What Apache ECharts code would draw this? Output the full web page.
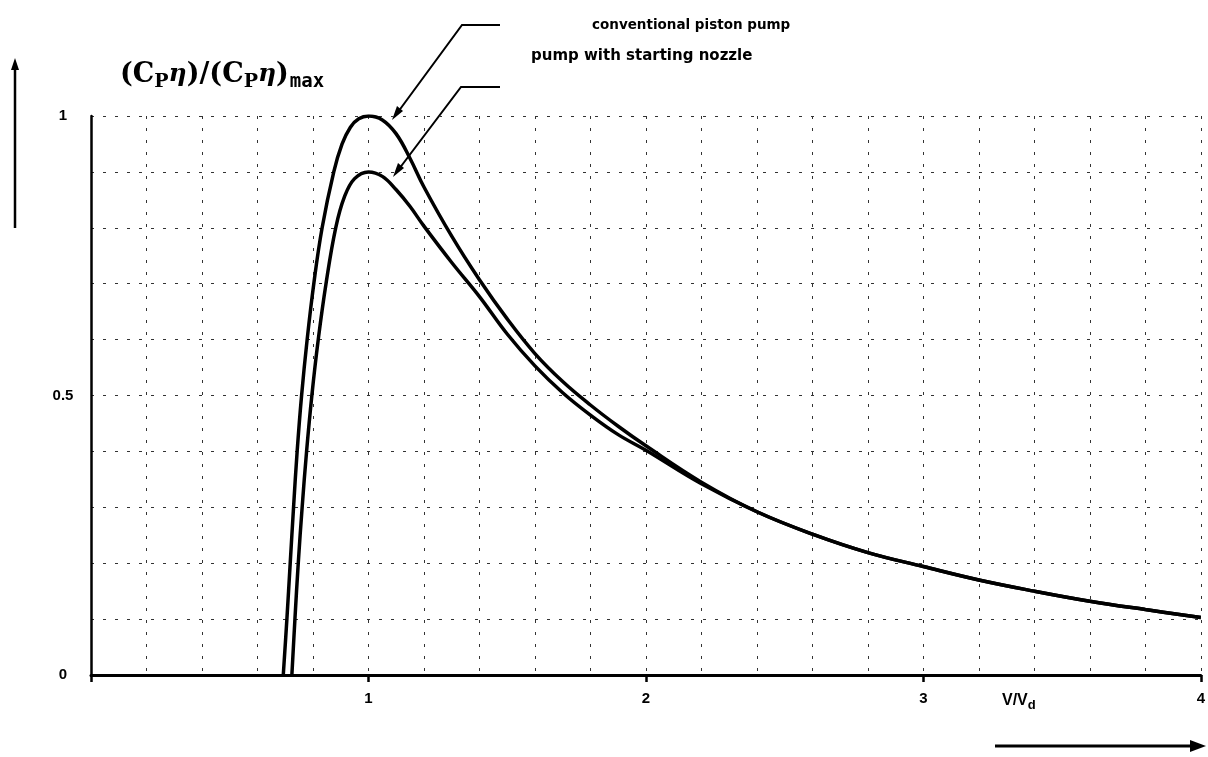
<!DOCTYPE html>
<html>
<head>
<meta charset="utf-8">
<script src="https://cdn.jsdelivr.net/npm/echarts@6/dist/echarts.min.js"></script>
<style>
  html, body { margin: 0; padding: 0; background: #fff; }
  #chart { width: 1208px; height: 757px; }
</style>
</head>
<body>
<div id="chart"></div>
<script>
// x = V/Vd, y = (Cp eta)/(Cp eta)max
const conventionalX = [0.693, 0.706, 0.718, 0.730, 0.743, 0.759, 0.779, 0.803, 0.833, 0.875, 0.905, 0.935, 0.965, 1.0, 1.05, 1.1, 1.15, 1.2, 1.3, 1.4, 1.5, 1.6, 1.7, 1.8, 1.9, 2.0, 2.2, 2.4, 2.6, 2.8, 3.0, 3.2, 3.4, 3.6, 3.8, 4.0];
const conventionalY = [0, 0.1, 0.2, 0.3, 0.4, 0.5, 0.6, 0.7, 0.8, 0.9, 0.95, 0.98, 0.995, 1.0, 0.993, 0.968, 0.924, 0.873, 0.785, 0.707, 0.637, 0.575, 0.525, 0.483, 0.445, 0.41, 0.345, 0.292, 0.252, 0.219, 0.194, 0.17, 0.15, 0.132, 0.117, 0.103];

const nozzleX = [0.724, 0.735, 0.747, 0.761, 0.777, 0.796, 0.819, 0.847, 0.882, 0.914, 0.95, 1.0, 1.05, 1.1, 1.15, 1.2, 1.3, 1.4, 1.5, 1.6, 1.7, 1.8, 1.9, 2.0, 2.2, 2.4, 2.6, 2.8, 3.0, 3.2, 3.4, 3.6, 3.8, 4.0];
const nozzleY = [0, 0.1, 0.2, 0.3, 0.4, 0.5, 0.6, 0.7, 0.8, 0.856, 0.888, 0.9, 0.892, 0.868, 0.838, 0.803, 0.738, 0.677, 0.61, 0.553, 0.505, 0.465, 0.43, 0.402, 0.342, 0.292, 0.252, 0.219, 0.194, 0.17, 0.15, 0.132, 0.117, 0.103];

const xTickLabels = { 1: '1', 2: '2', 3: '3', 4: '4' };
const yTickLabels = { 0: '0', 5: '0.5', 10: '1' };

const chart = echarts.init(document.getElementById('chart'));

const zip = (xs, ys) => xs.map((x, i) => [x, ys[i]]);
const gridLine = { show: true, lineStyle: { color: '#333', width: 1, type: [3, 9] } };
const labelFont = { color: '#000', fontFamily: 'Liberation Sans', fontWeight: 'bold', fontSize: 15 };
const curveStyle = { color: '#000', width: 3.5 };

chart.setOption({
  animation: false,
  backgroundColor: '#fff',
  grid: { left: 91, right: 2, top: 116, bottom: 82 },
  xAxis: [
    {
      type: 'value', min: 0, max: 4, interval: 0.2,
      axisLine: { lineStyle: { color: '#000', width: 3 } },
      axisTick: { show: false },
      axisLabel: Object.assign({
        margin: 16,
        formatter: v => xTickLabels[Math.round(v * 10) / 10] || ''
      }, labelFont),
      splitLine: gridLine
    },
    {
      // short marks under the axis at the whole numbers
      type: 'value', min: 0, max: 4, interval: 1, position: 'bottom',
      axisLine: { show: false },
      axisTick: { show: true, length: 7, lineStyle: { color: '#000', width: 2.5 } },
      axisLabel: { show: false },
      splitLine: { show: false }
    }
  ],
  yAxis: {
    type: 'value', min: 0, max: 1, interval: 0.1,
    axisLine: { show: true, lineStyle: { color: '#000', width: 2.5 } },
    axisTick: { show: false },
    axisLabel: Object.assign({
      margin: 28, align: 'center',
      formatter: v => yTickLabels[Math.round(v * 10)] || ''
    }, labelFont),
    splitLine: gridLine
  },
  series: [
    {
      name: 'conventional piston pump', type: 'line', smooth: 0.4,
      showSymbol: false, data: zip(conventionalX, conventionalY),
      lineStyle: curveStyle
    },
    {
      name: 'pump with starting nozzle', type: 'line', smooth: 0.4,
      showSymbol: false, data: zip(nozzleX, nozzleY),
      lineStyle: curveStyle
    }
  ],
  graphic: [
    // y-axis title and arrow
    {
      type: 'text', left: 120, top: 61,
      style: {
        text: '{a|(C}{p|P}{e|η}{a|)/(C}{p|P}{e|η}{a|)}{s|max}',
        rich: {
          a: { fontFamily: 'DejaVu Serif', fontWeight: 'bold', fontSize: 27, fill: '#000' },
          p: { fontFamily: 'DejaVu Serif', fontWeight: 'bold', fontSize: 19, fill: '#000', verticalAlign: 'bottom' },
          e: { fontFamily: 'DejaVu Serif', fontStyle: 'italic', fontWeight: 'bold', fontSize: 25, fill: '#000' },
          s: { fontFamily: 'DejaVu Sans Mono', fontSize: 19, fill: '#000', fontWeight: 'bold', padding: [15, 0, 0, 1] }
        }
      }
    },
    { type: 'line', shape: { x1: 15, y1: 228, x2: 15, y2: 66 }, style: { stroke: '#000', lineWidth: 2.5 } },
    { type: 'polygon', shape: { points: [[15, 58], [11, 70], [19, 70]] }, style: { fill: '#000' } },
    // x-axis title and arrow
    {
      type: 'text', left: 1002, top: 693,
      style: {
        text: '{a|V/V}{s|d}',
        rich: {
          a: { fontFamily: 'Liberation Sans', fontWeight: 'bold', fontSize: 16, fill: '#000' },
          s: { fontFamily: 'Liberation Sans', fontWeight: 'bold', fontSize: 13, fill: '#000', padding: [9, 0, 0, 0] }
        }
      }
    },
    { type: 'line', shape: { x1: 995, y1: 746, x2: 1192, y2: 746 }, style: { stroke: '#000', lineWidth: 3 } },
    { type: 'polygon', shape: { points: [[1206, 746], [1190, 740], [1190, 752]] }, style: { fill: '#000' } },
    // annotations
    {
      type: 'text', left: 592, top: 18,
      style: { text: 'conventional piston pump', fontFamily: 'DejaVu Sans', fontWeight: 'bold', fontSize: 13.5, fill: '#000' }
    },
    { type: 'polyline', shape: { points: [[500, 25], [462, 25], [398, 112]] }, style: { stroke: '#000', lineWidth: 2, fill: null } },
    { type: 'polygon', shape: { points: [[392, 120], [397, 106], [403, 111]] }, style: { fill: '#000' } },
    {
      type: 'text', left: 531, top: 49,
      style: { text: 'pump with starting nozzle', fontFamily: 'DejaVu Sans', fontWeight: 'bold', fontSize: 15, fill: '#000' }
    },
    { type: 'polyline', shape: { points: [[500, 87], [461, 87], [399, 169]] }, style: { stroke: '#000', lineWidth: 2, fill: null } },
    { type: 'polygon', shape: { points: [[393, 177], [398, 163], [404, 168]] }, style: { fill: '#000' } }
  ]
});
</script>
</body>
</html>
